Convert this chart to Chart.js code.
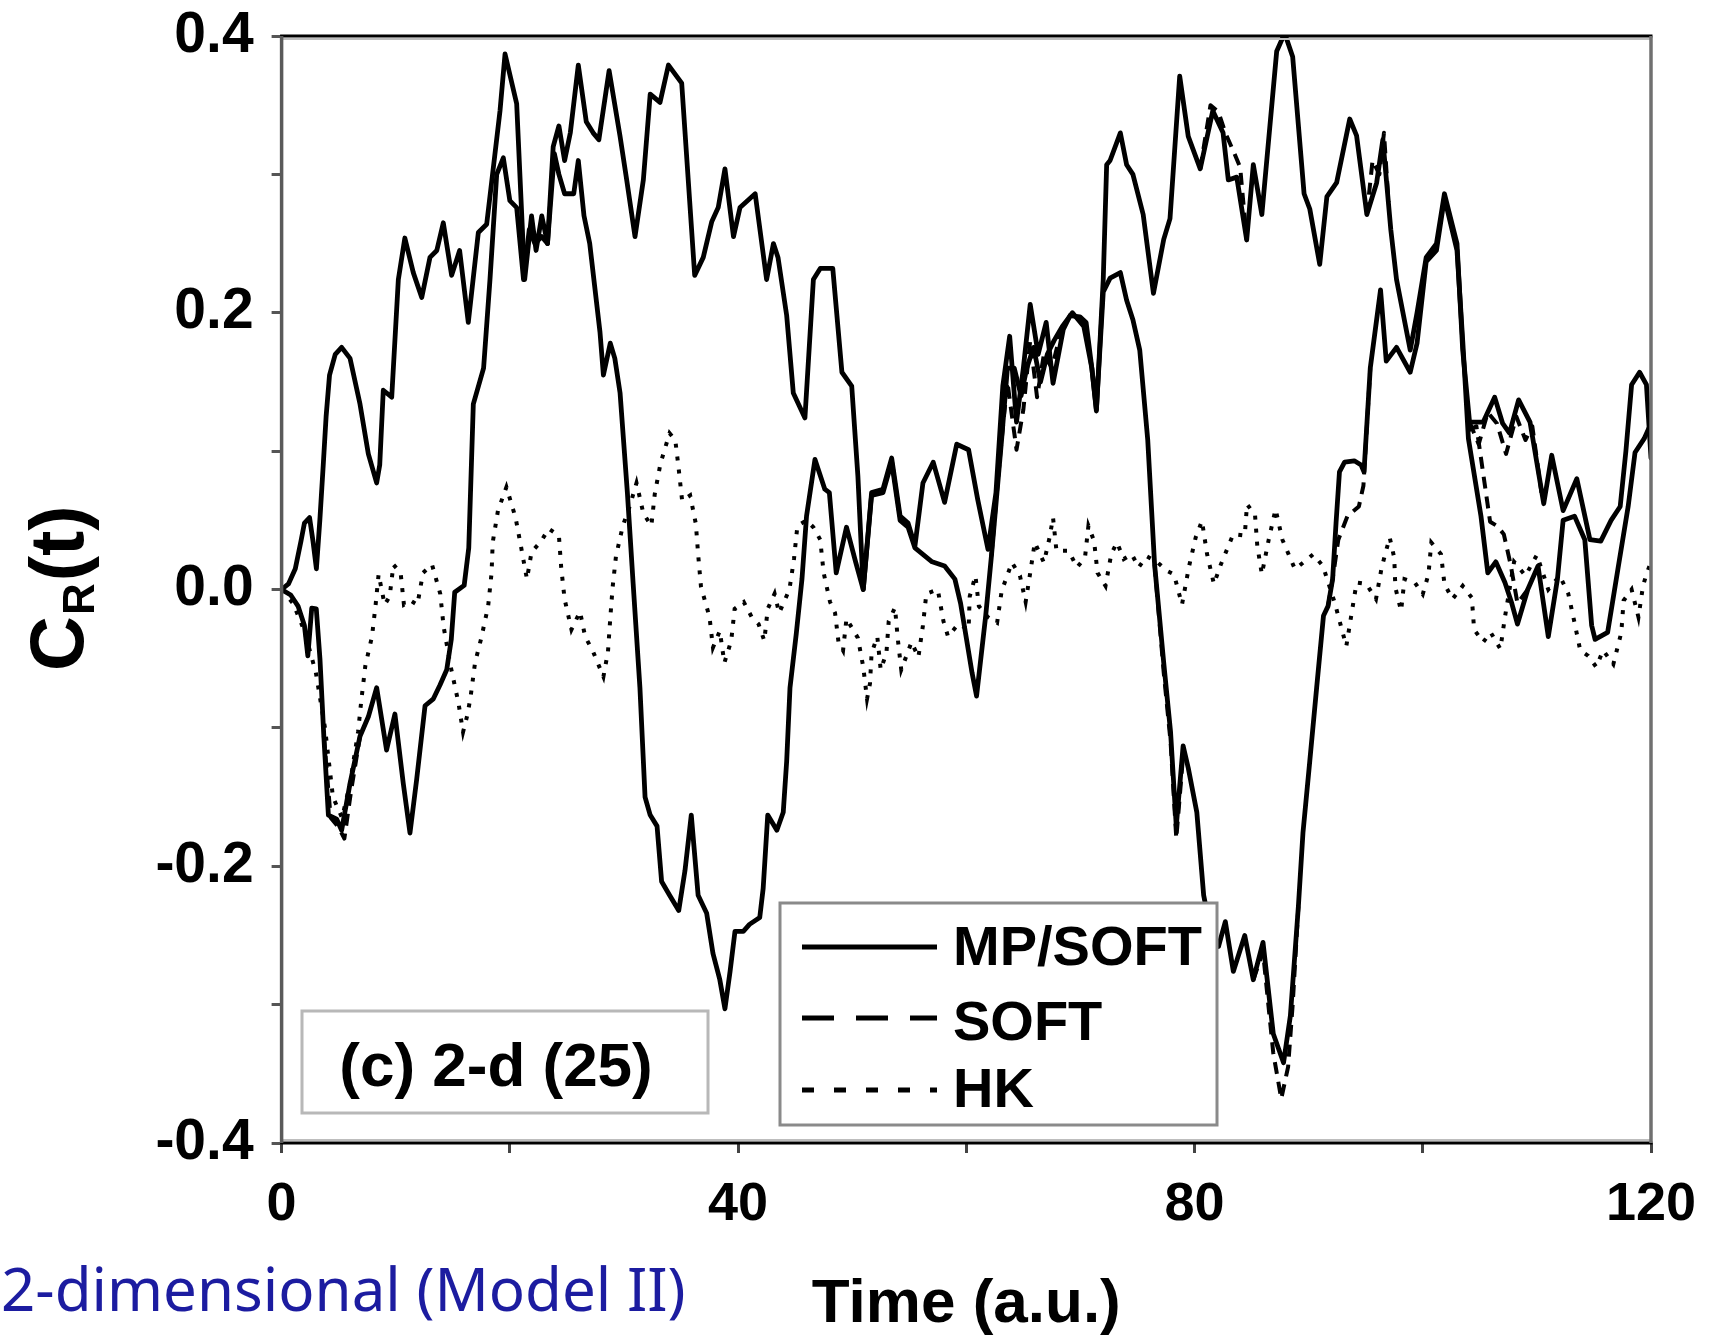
<!DOCTYPE html>
<html>
<head>
<meta charset="utf-8">
<script src="https://cdn.jsdelivr.net/npm/chart.js@4.4.1/dist/chart.umd.min.js"></script>
<style>
html,body{margin:0;padding:0;background:#fff;}
canvas{display:block;}
</style>
</head>
<body>
<canvas id="c" width="1718" height="1342"></canvas>
<script>
// ---------- DATA (time in a.u., C_R(t)) ----------
const mpSoftUp = [[0,0],[0.6,0.004],[1.2,0.015],[1.7,0.035],[2.0,0.048],[2.45,0.052],[2.75,0.035],[3.05,0.015],[3.35,0.05],[3.65,0.09],[3.9,0.125],[4.2,0.155],[4.7,0.17],[5.26,0.175],[6.0,0.167],[6.87,0.134],[7.6,0.098],[8.33,0.077],[8.6,0.09],[8.91,0.144],[9.65,0.139],[10.23,0.224],[10.8,0.254],[11.54,0.229],[12.28,0.211],[13.0,0.24],[13.6,0.245],[14.17,0.265],[14.9,0.227],[15.6,0.245],[16.36,0.193],[17.24,0.258],[17.97,0.264],[18.4,0.294],[19.14,0.346],[19.58,0.387],[20.6,0.351],[21.3,0.224],[21.9,0.27],[22.3,0.245],[22.8,0.27],[23.3,0.25],[23.8,0.32],[24.3,0.335],[24.8,0.31],[25.3,0.33],[26.0,0.379],[26.7,0.338],[27.3,0.33],[27.8,0.325],[28.7,0.375],[29.66,0.3275],[30.24,0.296],[30.97,0.255],[31.7,0.296],[32.3,0.358],[33.16,0.352],[33.9,0.379],[35.06,0.366],[36.2,0.227],[36.95,0.24],[37.7,0.266],[38.26,0.276],[38.85,0.304],[39.6,0.255],[40.17,0.276],[41.5,0.286],[42.5,0.224],[43.1,0.25],[43.5,0.24],[44.26,0.198],[44.84,0.142],[45.86,0.124],[46.6,0.224],[47.2,0.232],[48.3,0.232],[49.1,0.157],[49.96,0.147],[50.5,0.082],[50.97,0.0],[51.7,0.07],[52.7,0.0725],[53.46,0.095],[54.2,0.053],[54.9,0.048],[55.5,0.0315],[56.2,0.077],[57.1,0.092],[58.1,0.063],[59.16,0.105],[60.2,0.101],[61.0,0.065],[61.9,0.029],[62.6,0.07],[63.2,0.147],[63.8,0.183],[64.4,0.121],[65.0,0.16],[65.6,0.206],[66.3,0.17],[67.0,0.193],[67.6,0.149],[68.5,0.188],[69.1,0.198],[69.96,0.197],[70.5,0.193],[71.0,0.16],[71.4,0.129],[72.0,0.224],[72.3,0.307],[72.6,0.31],[73.5,0.33],[74.05,0.307],[74.6,0.3],[75.5,0.271],[76.4,0.214],[77.3,0.253],[77.85,0.268],[78.7,0.371],[79.45,0.3275],[80.5,0.304],[81.6,0.346],[82.5,0.33],[82.96,0.296],[83.7,0.298],[84.57,0.2526],[85.15,0.307],[85.9,0.271],[87.2,0.389],[87.9,0.402],[88.6,0.385],[89.6,0.286],[90.1,0.275],[90.97,0.235],[91.6,0.284],[92.45,0.294],[93.6,0.34],[94.2,0.328],[95.1,0.271],[95.96,0.294],[96.5,0.325],[97.2,0.26],[97.7,0.224],[98.9,0.173],[99.5,0.2],[100.3,0.24],[101.2,0.25],[101.9,0.286],[103.0,0.25],[103.5,0.173],[104.1,0.121],[105.3,0.121],[106.3,0.139],[107.0,0.12],[107.6,0.113],[108.4,0.137],[109.4,0.121],[110.6,0.062],[111.3,0.097],[112.3,0.057],[113.5,0.08],[114.65,0.036],[115.6,0.035],[116.5,0.05],[117.3,0.06],[117.8,0.1],[118.3,0.148],[119.0,0.157],[119.6,0.148],[120,0.095]];

const mpSoftDown = [[0,0],[0.8,-0.004],[1.44,-0.012],[2.0,-0.026],[2.3,-0.048],[2.64,-0.0135],[3.04,-0.014],[3.36,-0.05],[3.7,-0.106],[4.1,-0.163],[4.83,-0.166],[5.26,-0.174],[6.0,-0.14],[6.87,-0.106],[7.6,-0.092],[8.33,-0.071],[9.2,-0.116],[9.93,-0.09],[10.66,-0.14],[11.25,-0.176],[11.84,-0.137],[12.57,-0.084],[13.3,-0.079],[13.88,-0.069],[14.47,-0.058],[14.87,-0.036],[15.17,-0.002],[16.0,0.003],[16.4,0.03],[16.8,0.134],[17.7,0.16],[18.26,0.224],[18.85,0.3],[19.43,0.312],[20.0,0.281],[20.6,0.276],[21.2,0.224],[21.7,0.26],[22.2,0.25],[22.8,0.255],[23.3,0.25],[23.9,0.315],[24.3,0.3],[24.8,0.286],[25.6,0.286],[26.0,0.31],[26.5,0.27],[27.0,0.25],[27.9,0.186],[28.2,0.155],[28.8,0.178],[29.2,0.167],[29.66,0.142],[30.3,0.07],[30.8,0.005],[31.4,-0.071],[31.85,-0.15],[32.3,-0.163],[32.9,-0.171],[33.3,-0.211],[34.0,-0.221],[34.8,-0.232],[35.35,-0.203],[35.9,-0.163],[36.5,-0.221],[37.25,-0.234],[37.8,-0.263],[38.4,-0.282],[38.85,-0.303],[39.3,-0.276],[39.73,-0.247],[40.46,-0.247],[41.0,-0.242],[41.9,-0.237],[42.2,-0.216],[42.6,-0.163],[43.4,-0.174],[43.96,-0.161],[44.26,-0.124],[44.55,-0.071],[45.1,-0.032],[45.6,0.0075],[46.0,0.053],[46.74,0.094],[47.6,0.0725],[48.0,0.07],[48.6,0.012],[49.5,0.045],[50.3,0.02],[50.97,0.0],[51.7,0.068],[52.7,0.07],[53.46,0.092],[54.2,0.05],[54.9,0.045],[55.5,0.03],[57.0,0.02],[58.1,0.017],[59.0,0.0075],[59.5,-0.01],[60.0,-0.035],[60.5,-0.06],[60.9,-0.077],[61.7,-0.019],[62.2,0.024],[63.1,0.109],[63.6,0.16],[64.2,0.16],[64.8,0.14],[65.3,0.16],[65.9,0.175],[66.5,0.15],[67.1,0.17],[67.7,0.18],[68.4,0.19],[69.3,0.2],[70.3,0.19],[71.0,0.16],[71.4,0.13],[72.0,0.215],[72.6,0.225],[73.5,0.229],[74.05,0.209],[74.6,0.195],[75.2,0.173],[75.9,0.108],[76.5,0.018],[77.3,-0.053],[77.9,-0.103],[78.4,-0.171],[79.0,-0.113],[79.45,-0.129],[80.2,-0.161],[80.8,-0.221],[81.5,-0.25],[82.1,-0.258],[82.7,-0.24],[83.4,-0.276],[84.4,-0.25],[85.15,-0.282],[86.0,-0.255],[86.9,-0.321],[87.8,-0.342],[88.4,-0.308],[89.1,-0.229],[89.5,-0.176],[90.1,-0.124],[90.7,-0.071],[91.3,-0.019],[91.7,-0.012],[92.1,0.0075],[92.4,0.048],[92.7,0.085],[93.15,0.092],[94.0,0.093],[94.6,0.09],[94.85,0.085],[95.4,0.16],[96.3,0.2165],[96.8,0.165],[97.7,0.175],[98.9,0.157],[99.5,0.178],[100.3,0.237],[101.2,0.245],[101.9,0.283],[103.0,0.245],[103.5,0.18],[104.0,0.109],[105.1,0.053],[105.7,0.012],[106.4,0.02],[107.2,0.005],[107.8,-0.01],[108.3,-0.025],[109.2,0.0],[110.1,0.017],[111.0,-0.034],[111.8,0.0075],[112.3,0.05],[113.3,0.053],[114.2,0.036],[114.8,-0.026],[115.1,-0.036],[116.2,-0.031],[117.1,0.0147],[118.0,0.06],[118.6,0.099],[119.4,0.109],[120,0.12]];

// SOFT (dashed) curves: only where they separate visibly from MP/SOFT
const softUpSegments = [
  [[80.5,0.304],[81.4,0.35],[82.1,0.345],[82.7,0.33],[83.5,0.315],[84.0,0.305],[84.57,0.2526]],
  [[95.1,0.271],[95.6,0.31],[96.2,0.3],[96.6,0.33],[97.0,0.28]],
  [[104.1,0.121],[104.9,0.105],[105.7,0.128],[106.5,0.12],[107.3,0.098],[108.2,0.125],[109.0,0.108],[109.6,0.118],[110.4,0.07]]
];
const softDownSegments = [
  [[3.7,-0.106],[4.3,-0.165],[5.0,-0.172],[5.5,-0.18],[6.1,-0.145],[6.87,-0.106]],
  [[62.2,0.024],[63.0,0.1],[63.6,0.15],[64.4,0.101],[65.0,0.13],[65.6,0.18],[66.2,0.139],[66.8,0.17],[67.5,0.16],[68.4,0.19]],
  [[76.5,0.018],[77.3,-0.06],[77.9,-0.11],[78.4,-0.18],[79.0,-0.12]],
  [[85.15,-0.282],[86.0,-0.262],[86.9,-0.335],[87.6,-0.368],[88.2,-0.345],[88.6,-0.3],[89.1,-0.229]],
  [[91.7,-0.012],[92.1,0.0075],[92.6,0.036],[93.4,0.053],[94.4,0.06],[94.8,0.075],[95.4,0.16]],
  [[104.0,0.115],[104.7,0.118],[105.9,0.049],[106.5,0.046],[107.1,0.04],[107.7,0.018],[108.3,-0.01],[109.2,0.0]]
];

const hkCurve = [[0,0],[1.0,-0.01],[2.0,-0.03],[3.0,-0.06],[3.8,-0.1],[4.5,-0.15],[5.3,-0.165],[6.0,-0.14],[6.7,-0.103],[7.0,-0.079],[7.34,-0.055],[7.92,-0.034],[8.24,-0.011],[8.5,0.011],[9.03,-0.011],[9.47,-0.005],[9.8,0.018],[10.43,0.012],[10.72,-0.011],[11.3,-0.008],[11.9,-0.011],[12.39,0.012],[13.18,0.018],[13.9,-0.003],[14.2,-0.027],[14.8,-0.055],[15.5,-0.082],[15.9,-0.103],[16.3,-0.09],[16.57,-0.077],[16.95,-0.053],[17.5,-0.035],[18.1,-0.012],[18.4,0.012],[18.5,0.034],[18.96,0.057],[19.7,0.074],[20.5,0.052],[21.0,0.03],[21.5,0.0075],[21.9,0.027],[22.76,0.035],[23.4,0.044],[24.3,0.039],[24.5,0.016],[24.8,-0.007],[25.4,-0.029],[26.15,-0.016],[26.6,-0.034],[27.3,-0.045],[28.2,-0.063],[28.6,-0.045],[28.8,-0.021],[29.0,0.001],[29.3,0.024],[29.9,0.046],[30.5,0.06],[31.1,0.077],[31.7,0.055],[32.4,0.046],[32.7,0.069],[33.2,0.091],[34.0,0.113],[34.5,0.108],[34.8,0.087],[35.1,0.064],[35.8,0.068],[36.3,0.0475],[36.5,0.0255],[36.75,0.002],[37.5,-0.02],[37.8,-0.042],[38.4,-0.03],[38.8,-0.053],[39.4,-0.037],[39.7,-0.014],[40.5,-0.009],[41.2,-0.02],[41.8,-0.025],[42.3,-0.037],[42.6,-0.014],[43.2,-0.003],[43.6,-0.017],[44.5,0.0],[44.9,0.022],[45.2,0.046],[46.0,0.05],[46.6,0.045],[47.2,0.036],[47.5,0.012],[48.06,-0.009],[48.5,-0.017],[48.8,-0.038],[49.2,-0.044],[49.5,-0.021],[50.5,-0.035],[50.97,-0.056],[51.3,-0.079],[51.56,-0.068],[51.7,-0.046],[52.2,-0.034],[52.5,-0.058],[53.0,-0.046],[53.2,-0.023],[53.75,-0.013],[54.0,-0.036],[54.3,-0.058],[55.2,-0.038],[55.8,-0.049],[56.2,-0.026],[56.5,-0.003],[57.5,0.0],[58.0,-0.023],[58.4,-0.034],[59.3,-0.025],[60.2,-0.029],[60.3,-0.005],[60.8,0.01],[61.1,-0.012],[61.9,-0.02],[62.7,-0.024],[63.1,-0.001],[64.0,0.0195],[64.7,0.01],[65.2,-0.009],[65.6,0.012],[66.0,0.034],[66.8,0.0195],[67.3,0.0376],[67.6,0.052],[67.9,0.028],[68.97,0.028],[69.7,0.016],[70.4,0.023],[70.7,0.046],[71.2,0.035],[71.5,0.012],[72.2,0.0026],[72.7,0.0255],[73.2,0.034],[73.8,0.022],[74.5,0.0255],[75.1,0.016],[75.8,0.024],[76.7,0.02],[77.6,0.0134],[78.2,0.011],[78.9,-0.011],[79.5,0.016],[80.1,0.0376],[80.65,0.0496],[81.1,0.0255],[81.7,0.004],[82.3,0.018],[83.4,0.04],[84.4,0.039],[84.6,0.0616],[85.3,0.054],[85.5,0.0315],[85.9,0.011],[86.5,0.036],[87.1,0.058],[87.7,0.036],[88.8,0.0147],[89.6,0.02],[90.4,0.0255],[91.25,0.017],[92.3,-0.01],[93.3,-0.041],[93.75,-0.018],[94.2,0.005],[95.05,0.004],[95.9,-0.007],[96.4,0.016],[97.1,0.0376],[97.5,0.023],[97.6,0.0014],[98.1,-0.0155],[98.4,0.0075],[99.3,0.005],[100.0,-0.0034],[100.5,0.011],[100.75,0.034],[101.6,0.0255],[101.9,0.004],[102.6,-0.007],[103.5,0.0026],[104.3,-0.006],[104.5,-0.029],[105.3,-0.038],[105.95,-0.031],[106.8,-0.043],[107.2,-0.02],[108.0,0.02],[109.0,0.01],[110.0,0.025],[111.0,0.0],[112.0,0.01],[112.75,-0.003],[113.3,-0.024],[113.8,-0.044],[114.5,-0.048],[115.2,-0.056],[115.8,-0.044],[116.7,-0.054],[117.4,-0.031],[117.6,-0.008],[118.3,0.0],[118.9,-0.02],[119.3,0.0026],[119.6,0.011],[120,0.02]];

const xTickValues = [0,20,40,60,80,100,120];
const xTickLabels = ['0','','40','','80','','120'];
const yTickValues = [0.4,0.3,0.2,0.1,0,-0.1,-0.2,-0.3,-0.4];
const yTickLabels = ['0.4','','0.2','','0.0','','-0.2','','-0.4'];
const legendLabels = ['MP/SOFT','SOFT','HK'];
const panelLabel = '(c) 2-d (25)';
const subtitleText = '2-dimensional (Model II)';
const xTitle = 'Time (a.u.)';

// ---------- helpers ----------
function toXY(pairs){ return pairs.map(p => ({x:p[0], y:p[1]})); }
function segmentsToXY(segs){
  const out = [];
  segs.forEach((s,i) => {
    if (i > 0) out.push({x: s[0][0], y: null});
    s.forEach(p => out.push({x:p[0], y:p[1]}));
  });
  return out;
}

const FONT = 'Liberation Sans';
const solidStyle = {borderColor:'#000', borderWidth:4.8, pointRadius:0, tension:0, fill:false, spanGaps:false, borderJoinStyle:'round', borderCapStyle:'round'};
const dashStyle = Object.assign({}, solidStyle, {borderDash:[12,8], borderCapStyle:'butt', borderWidth:4});
const dotStyle = Object.assign({}, solidStyle, {borderDash:[4,9], borderCapStyle:'butt', borderWidth:4, borderJoinStyle:'miter'});

const decorPlugin = {
  id: 'decor',
  afterDatasetsDraw(chart) {
    const ctx = chart.ctx;
    const a = chart.chartArea;
    ctx.save();
    // frame
    ctx.lineCap = 'butt';
    ctx.strokeStyle = '#bdbdbd'; ctx.lineWidth = 2;
    ctx.beginPath(); ctx.moveTo(a.left, a.top + 3); ctx.lineTo(a.right, a.top + 3); ctx.stroke();
    ctx.beginPath(); ctx.moveTo(a.left, a.bottom - 3); ctx.lineTo(a.right, a.bottom - 3); ctx.stroke();
    ctx.strokeStyle = '#000'; ctx.lineWidth = 3;
    ctx.beginPath(); ctx.moveTo(a.left - 1.5, a.top); ctx.lineTo(a.right + 1.5, a.top); ctx.stroke();
    ctx.beginPath(); ctx.moveTo(a.left - 1.5, a.bottom); ctx.lineTo(a.right + 1.5, a.bottom); ctx.stroke();
    ctx.strokeStyle = '#5a5a5a'; ctx.lineWidth = 3.5;
    ctx.beginPath(); ctx.moveTo(a.left, a.top); ctx.lineTo(a.left, a.bottom); ctx.stroke();
    ctx.strokeStyle = '#707070';
    ctx.beginPath(); ctx.moveTo(a.right, a.top); ctx.lineTo(a.right, a.bottom); ctx.stroke();

    // panel label box
    ctx.fillStyle = '#fff';
    ctx.fillRect(302, 1011, 406, 102);
    ctx.strokeStyle = '#b8b8b8'; ctx.lineWidth = 3;
    ctx.strokeRect(302, 1011, 406, 102);
    ctx.fillStyle = '#000';
    ctx.font = 'bold 62px "' + FONT + '"';
    ctx.textAlign = 'center'; ctx.textBaseline = 'alphabetic';
    ctx.fillText(panelLabel, 496, 1086);

    // legend box
    ctx.fillStyle = '#fff';
    ctx.fillRect(780, 903, 437, 222);
    ctx.strokeStyle = '#8a8a8a'; ctx.lineWidth = 3;
    ctx.strokeRect(780, 903, 437, 222);
    const rows = [947, 1018, 1090];
    const dashes = [[], [32,22], [12,20]];
    ctx.strokeStyle = '#000'; ctx.lineWidth = 5;
    rows.forEach((y,i) => {
      ctx.setLineDash(dashes[i]);
      ctx.beginPath(); ctx.moveTo(802, y); ctx.lineTo(937, y); ctx.stroke();
    });
    ctx.setLineDash([]);
    ctx.fillStyle = '#000';
    ctx.font = 'bold 56px "' + FONT + '"';
    ctx.textAlign = 'left'; ctx.textBaseline = 'alphabetic';
    const baselines = [965, 1040, 1107];
    legendLabels.forEach((t,i) => ctx.fillText(t, 953, baselines[i]));
    ctx.restore();
  },
  afterDraw(chart) {
    const ctx = chart.ctx;
    ctx.save();
    // y-axis title C_R(t), rotated
    ctx.translate(83, 671);
    ctx.rotate(-Math.PI/2);
    ctx.fillStyle = '#000';
    ctx.textAlign = 'left'; ctx.textBaseline = 'alphabetic';
    ctx.font = 'bold 76px "' + FONT + '"';
    ctx.fillText('C', 0, 0);
    let w = ctx.measureText('C').width;
    ctx.font = 'bold 44px "' + FONT + '"';
    ctx.fillText('R', w + 1, 11);
    w += ctx.measureText('R').width + 3;
    ctx.font = 'bold 76px "' + FONT + '"';
    ctx.fillText('(t)', w, 0);
    ctx.restore();

    // subtitle in blue
    ctx.save();
    ctx.fillStyle = '#1c1ca0';
    ctx.font = '60px "Noto Sans"';
    ctx.textAlign = 'left'; ctx.textBaseline = 'alphabetic';
    ctx.fillText(subtitleText, 1, 1311);
    ctx.restore();
  }
};

new Chart(document.getElementById('c'), {
  type: 'line',
  data: {
    datasets: [
      Object.assign({label: legendLabels[0], data: toXY(mpSoftUp)}, solidStyle),
      Object.assign({label: legendLabels[0], data: toXY(mpSoftDown)}, solidStyle),
      Object.assign({label: legendLabels[1], data: segmentsToXY(softUpSegments)}, dashStyle),
      Object.assign({label: legendLabels[1], data: segmentsToXY(softDownSegments)}, dashStyle),
      Object.assign({label: legendLabels[2], data: toXY(hkCurve)}, dotStyle)
    ]
  },
  options: {
    responsive: false,
    animation: false,
    devicePixelRatio: 1,
    layout: {padding: {left: 0, top: 36, right: 67, bottom: 0}},
    plugins: {legend: {display: false}, tooltip: {enabled: false}},
    scales: {
      x: {
        type: 'linear', min: 0, max: 120,
        afterFit(s){ s.height = 199; s.paddingLeft = 0; s.paddingRight = 0; },
        afterBuildTicks(s){ s.ticks = xTickValues.map(v => ({value: v})); },
        ticks: {
          autoSkip: false, maxRotation: 0, padding: 20, color: '#000',
          font: {family: FONT, size: 54, weight: 'bold'},
          callback: (v) => { const i = xTickValues.indexOf(v); return i >= 0 ? xTickLabels[i] : ''; }
        },
        grid: {drawOnChartArea: false, drawTicks: true, tickLength: 10, color: '#444', lineWidth: 3},
        border: {display: false},
        title: {display: true, text: xTitle, color: '#000', font: {family: FONT, size: 62, weight: 'bold'}, padding: {top: 0, bottom: 0}}
      },
      y: {
        min: -0.4, max: 0.4,
        afterFit(s){ s.width = 281.6; s.paddingTop = 0; s.paddingBottom = 0; },
        afterBuildTicks(s){ s.ticks = yTickValues.map(v => ({value: v})); },
        ticks: {
          autoSkip: false, padding: 18, color: '#000',
          font: {family: FONT, size: 57, weight: 'bold'},
          callback: (v) => { const i = yTickValues.findIndex(t => Math.abs(t - v) < 1e-6); return i >= 0 ? yTickLabels[i] : ''; }
        },
        grid: {drawOnChartArea: false, drawTicks: true, tickLength: 10, color: '#555', lineWidth: 3},
        border: {display: false}
      }
    }
  },
  plugins: [decorPlugin]
});
</script>
</body>
</html>
